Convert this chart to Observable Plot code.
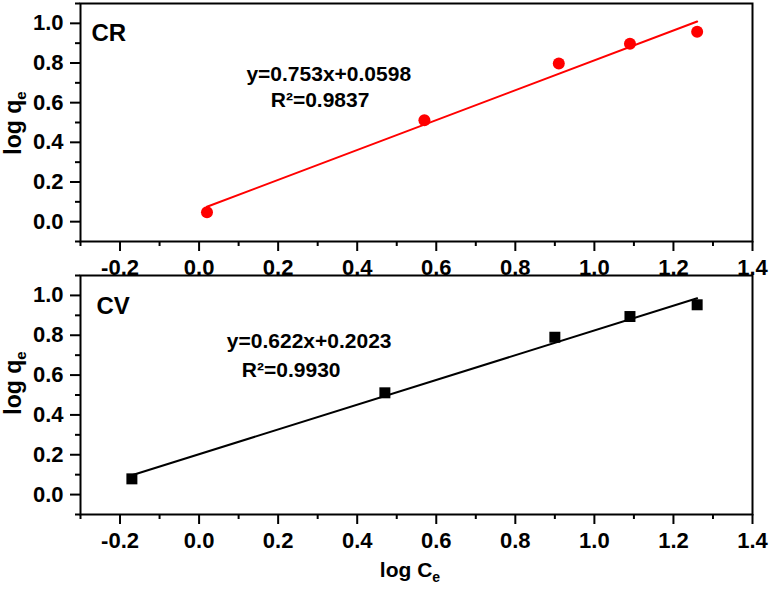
<!DOCTYPE html>
<html><head><meta charset="utf-8">
<script src="https://cdn.jsdelivr.net/npm/d3@7"></script>
<script src="https://cdn.jsdelivr.net/npm/@observablehq/plot@0.6"></script>
<style>
body{margin:0;background:#fff;}
#wrap{position:relative;width:772px;height:590px;overflow:hidden;background:#fff;}
#topPanel,#botPanel{position:absolute;left:0;}
#topPanel{top:0;}
#botPanel{top:270px;}
</style></head>
<body><div id="wrap"><div id="topPanel"></div><div id="botPanel"></div></div>
<script>
// ---- data ----
const crX = [0.02, 0.57, 0.91, 1.09, 1.26];
const crY = [0.047, 0.511, 0.798, 0.897, 0.957];
const cvX = [-0.17, 0.47, 0.90, 1.09, 1.26];
const cvY = [0.079, 0.511, 0.790, 0.894, 0.953];
const crFitX = [0.02, 1.26];
const crFitY = [0.075, 1.009];
const cvFitX = [-0.17, 1.26];
const cvFitY = [0.097, 0.986];
const crNotes = ["y=0.753x+0.0598", "R²=0.9837"];
const cvNotes = ["y=0.622x+0.2023", "R²=0.9930"];
const crNoteX = [0.328, 0.306];
const crNoteY = [0.708, 0.578];
const cvNoteX = [0.2785, 0.233];
const cvNoteY = [0.736, 0.5915];
const xMajor = [-0.2, 0, 0.2, 0.4, 0.6, 0.8, 1.0, 1.2, 1.4];
const xMinor = [-0.3, -0.1, 0.1, 0.3, 0.5, 0.7, 0.9, 1.1, 1.3];
const yMajor = [0, 0.2, 0.4, 0.6, 0.8, 1.0];
const yMinor = [-0.1, 0.1, 0.3, 0.5, 0.7, 0.9, 1.1];

const FONT = "'Liberation Sans', Arial, Helvetica, sans-serif";
const fmt = d => d.toFixed(1);

function panel(o) {
  const pts = o.px.map((x, i) => ({x, y: o.py[i]}));
  const fit = o.fx.map((x, i) => ({x, y: o.fy[i]}));
  const notes = o.notes.map((t, i) => ({t, x: o.nx[i], y: o.ny[i]}));
  return Plot.plot({
    width: 772, height: o.height,
    marginLeft: 80, marginRight: 20, marginTop: o.marginTop, marginBottom: o.marginBottom,
    x: {domain: [-0.3, 1.4]},
    y: {domain: [-0.1, 1.1]},
    style: {background: o.bg, fontFamily: FONT, fontWeight: "bold", fontSize: "22px", color: "black", overflow: "visible"},
    marks: [
      Plot.frame({fill: "white", stroke: null}),
      Plot.axisX(xMinor, {tickSize: 5, tickFormat: () => "", strokeWidth: 2, label: null}),
      Plot.axisX(xMajor, {tickSize: 10, tickPadding: 8, tickFormat: fmt, strokeWidth: 2, fontSize: 22, fontWeight: "bold", label: null}),
      Plot.axisY(yMinor, {tickSize: 5, tickFormat: () => "", strokeWidth: 2, label: null}),
      Plot.axisY(yMajor, {tickSize: 10, tickPadding: 7, tickFormat: fmt, strokeWidth: 2, fontSize: 22, fontWeight: "bold", label: null}),
      Plot.line(fit, {x: "x", y: "y", stroke: o.color, strokeWidth: 2}),
      Plot.dot(pts, {x: "x", y: "y", fill: o.color, stroke: null, symbol: o.symbol, r: o.r}),
      Plot.text(notes, {x: "x", y: "y", text: "t", textAnchor: "middle", lineAnchor: "bottom", fontSize: 21, fontWeight: "bold", fill: "black"}),
      Plot.text([o.name], {frameAnchor: "top-left", dx: o.nameDx, dy: o.nameDy, textAnchor: "start", lineAnchor: "top", fontSize: 24, fontWeight: "bold", fill: "black"}),
      Plot.frame({stroke: "black", strokeWidth: 2})
    ]
  });
}

function addSubLabel(svg, main, sub, x, y, rotate, size, subSize) {
  const t = d3.select(svg).append("text")
    .attr("transform", `translate(${x},${y})` + (rotate ? " rotate(-90)" : ""))
    .attr("text-anchor", "middle")
    .attr("font-family", FONT).attr("font-weight", "bold").attr("font-size", size).attr("fill", "black");
  t.append("tspan").text(main);
  t.append("tspan").attr("font-size", subSize).attr("dy", 5).text(sub);
}

const topSvg = panel({px: crX, py: crY, fx: crFitX, fy: crFitY, color: "#ff0000", symbol: "circle", r: 6,
  name: "CR", notes: crNotes, nx: crNoteX, ny: crNoteY,
  height: 280, marginTop: 3, marginBottom: 39, bg: "white", nameDx: 11, nameDy: 20});
const botSvg = panel({px: cvX, py: cvY, fx: cvFitX, fy: cvFitY, color: "#000000", symbol: "square", r: 6.2,
  name: "CV", notes: cvNotes, nx: cvNoteX, ny: cvNoteY,
  height: 320, marginTop: 5, marginBottom: 76, bg: "transparent", nameDx: 16, nameDy: 21});

addSubLabel(topSvg, "log q", "e", 21, 123, true, 23, 15);
addSubLabel(botSvg, "log q", "e", 21, 113, true, 23, 15);
addSubLabel(botSvg, "log C", "e", 410, 307, false, 21, 14);

document.getElementById("topPanel").appendChild(topSvg);
document.getElementById("botPanel").appendChild(botSvg);
</script>
</body></html>
